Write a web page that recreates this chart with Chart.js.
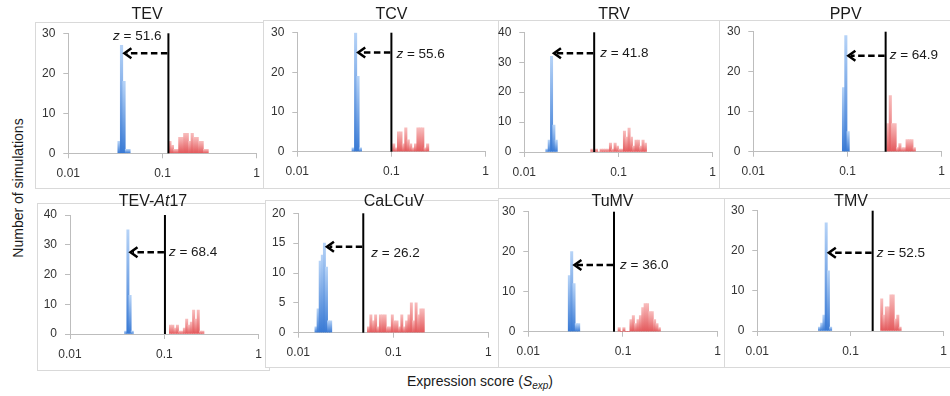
<!DOCTYPE html>
<html>
<head>
<meta charset="utf-8">
<script src="https://cdn.jsdelivr.net/npm/chart.js@4.4.1/dist/chart.umd.min.js"></script>
<style>
  html, body { margin: 0; padding: 0; background: #fff; overflow: hidden; width: 950px; height: 396px; }
  #wrap { position: relative; width: 950px; height: 396px; overflow: hidden;
          font-family: "Liberation Sans", Arial, Helvetica, sans-serif; color: #1a1a1a; }
  #wrap canvas { position: absolute; }
  .ytitle { position: absolute; left: 18px; top: 188px; white-space: nowrap; font-size: 14px;
            transform: translate(-50%, -50%) rotate(-90deg); }
  .xtitle { position: absolute; left: 480px; top: 382px; white-space: nowrap; font-size: 14px;
            transform: translate(-50%, -50%); }
  .xtitle sub { font-size: 10px; font-style: italic; vertical-align: -3px; }
</style>
</head>
<body>
<div id="wrap">
  <div class="ytitle">Number of simulations</div>
  <div class="xtitle">Expression score (<i>S</i><sub>exp</sub>)</div>
</div>
<script>
// ---- panel labels (text between * is italic) ----
const panelTitles = ['TEV', 'TCV', 'TRV', 'PPV', 'TEV-*At*17', 'CaLCuV', 'TuMV', 'TMV'];
const xTicks = [0.01, 0.1, 1];
const xTickLabels = ['0.01', '0.1', '1'];
const yMaxes = [30, 30, 40, 30, 40, 20, 30, 30];
const yStepSizes = [10, 10, 10, 10, 10, 5, 10, 10];

// ---- z-scores, observed score (black line) and arrow level/target ----
const zScores = ['51.6', '55.6', '41.8', '64.9', '68.4', '26.2', '36.0', '52.5'];
const observedScores = [0.1156, 0.1, 0.0552, 0.254, 0.1015, 0.0483, 0.0804, 0.173];
const arrowLevels = [25, 25, 33, 24, 27.5, 14.4, 16.7, 19.5];
const arrowTargets = [0.038, 0.0428, 0.0199, 0.0985, 0.0422, 0.0193, 0.0296, 0.0564];

// ---- histograms: bin centres (x) and counts (n); rand = blue, obs = red ----
const tevRandX = [0.03459, 0.03675, 0.03905, 0.04149, 0.04408];
const tevRandN = [3, 27, 18, 1, 1];
const tevObsX = [0.1199, 0.1274, 0.1354, 0.1438, 0.1528, 0.1624, 0.1725, 0.1833, 0.1948, 0.2069, 0.2199, 0.2336, 0.2482, 0.2637, 0.2802, 0.2977];
const tevObsN = [3, 2, 1, 1, 4, 4, 5, 5, 3, 5, 4, 4, 3, 3, 1, 1];

const tcvRandX = [0.03925, 0.04165, 0.04419, 0.04689];
const tcvRandN = [1, 30, 19, 1];
const tcvObsX = [0.1058, 0.1123, 0.1191, 0.1264, 0.1341, 0.1423, 0.1510, 0.1603, 0.1701, 0.1805, 0.1915, 0.2032, 0.2156, 0.2288, 0.2428];
const tcvObsN = [2, 1, 5, 5, 2, 6, 3, 2, 1, 2, 6, 6, 6, 1, 2];

const trvRandX = [0.01737, 0.01839, 0.01947, 0.02061, 0.02182];
const trvRandN = [1, 4, 32, 9, 4];
const trvObsX = [0.05211, 0.05516, 0.05840, 0.06182, 0.06544, 0.06927, 0.07333, 0.07763, 0.08218, 0.08700, 0.09209, 0.09749, 0.1032, 0.1092, 0.1157, 0.1224, 0.1296, 0.1372, 0.1452, 0.1537, 0.1628, 0.1723, 0.1824, 0.1931];
const trvObsN = [1, 0, 1, 0, 1, 1, 1, 1, 3, 1, 3, 2, 1, 1, 7, 5, 8, 5, 2, 4, 4, 2, 4, 3];

const ppvRandX = [0.09069, 0.09601, 0.1016];
const ppvRandN = [16, 29, 5];
const ppvObsX = [0.2685, 0.2847, 0.3019, 0.3202, 0.3395, 0.3600, 0.3818, 0.4048, 0.4293, 0.4552, 0.4827, 0.5119];
const ppvObsN = [7, 14, 7, 7, 1, 2, 1, 1, 3, 3, 3, 1];

const tevAtRandX = [0.03896, 0.04110, 0.04335, 0.04572];
const tevAtRandN = [1, 35, 13, 1];
const tevAtObsX = [0.1162, 0.1230, 0.1301, 0.1377, 0.1457, 0.1541, 0.1631, 0.1726, 0.1826, 0.1932, 0.2044, 0.2163, 0.2289, 0.2422, 0.2562];
const tevAtObsN = [3, 3, 2, 3, 1, 1, 2, 5, 3, 4, 8, 5, 8, 1, 1];

const calcuvRandX = [0.01536, 0.01616, 0.01700, 0.01789, 0.01883, 0.01981, 0.02084, 0.02193];
const calcuvRandN = [1, 4, 12, 13, 15, 11, 2, 2];
const calcuvObsX = [0.05481, 0.05807, 0.06152, 0.06517, 0.06904, 0.07314, 0.07749, 0.08209, 0.08697, 0.09213, 0.09761, 0.1034, 0.1095, 0.1160, 0.1229, 0.1302, 0.1380, 0.1462, 0.1549, 0.1641, 0.1738, 0.1841, 0.1951, 0.2067];
const calcuvObsN = [1, 3, 2, 3, 1, 3, 3, 3, 1, 1, 3, 2, 2, 1, 3, 1, 2, 3, 5, 2, 5, 3, 4, 4];

const tumvRandX = [0.02715, 0.02873, 0.03040, 0.03216, 0.03403];
const tumvRandN = [14, 20, 12, 2, 2];
const tumvObsX = [0.09120, 0.09659, 0.1023, 0.1083, 0.1147, 0.1215, 0.1287, 0.1363, 0.1443, 0.1529, 0.1619, 0.1715, 0.1816, 0.1923, 0.2037, 0.2157, 0.2285, 0.2420];
const tumvObsN = [1, 0, 1, 0, 0, 3, 4, 2, 3, 4, 6, 7, 7, 5, 5, 3, 2, 1];

const tmvRandX = [0.04653, 0.04916, 0.05193, 0.05486, 0.05795, 0.06122];
const tmvRandN = [1, 2, 4, 27, 15, 1];
const tmvObsX = [0.2165, 0.2291, 0.2425, 0.2567, 0.2717, 0.2875, 0.3043, 0.3221, 0.3409];
const tmvObsN = [8, 4, 6, 6, 9, 9, 3, 4, 1];

const histograms = [
  [tevRandX, tevRandN, tevObsX, tevObsN],
  [tcvRandX, tcvRandN, tcvObsX, tcvObsN],
  [trvRandX, trvRandN, trvObsX, trvObsN],
  [ppvRandX, ppvRandN, ppvObsX, ppvObsN],
  [tevAtRandX, tevAtRandN, tevAtObsX, tevAtObsN],
  [calcuvRandX, calcuvRandN, calcuvObsX, calcuvObsN],
  [tumvRandX, tumvRandN, tumvObsX, tumvObsN],
  [tmvRandX, tmvRandN, tmvObsX, tmvObsN]
];

// ---- page layout of each panel (px): frame, plot area, title centre, label offsets ----
const panelLayout = [
  { box: [35, 22, 268, 188],   plot: [68.3, 258.3, 33.3, 153.3],  title: [147, 15],    barW: 2.5,  zDx: -7, zDy: -17, zAlign: 'right' },
  { box: [263, 20, 503, 188],  plot: [297.3, 485.5, 32.7, 151.7], title: [391.5, 15],  barW: 2.4,  zDx: 5,  zDy: 2,   zAlign: 'left' },
  { box: [498, 20, 724, 188],  plot: [524.3, 713.3, 32.3, 152],   title: [614, 15],    barW: 2.33, zDx: 6,  zDy: 0,   zAlign: 'left' },
  { box: [719, 20, 955, 188],  plot: [753.3, 941.7, 31.7, 151.7], title: [845.7, 15],  barW: 2.4,  zDx: 4,  zDy: 0,   zAlign: 'left' },
  { box: [37, 203, 270, 370],  plot: [70, 260, 215, 334],         title: [153, 201.7], barW: 2.3,  zDx: 4,  zDy: 0,   zAlign: 'left' },
  { box: [265, 200, 503, 367], plot: [298.3, 488.3, 213.3, 332.7],title: [394, 201.7], barW: 2.25, zDx: 8,  zDy: 7,   zAlign: 'left' },
  { box: [498, 198, 729, 367], plot: [528.3, 718.3, 211.7, 331.7],title: [612.5, 201.7], barW: 2.35, zDx: 6, zDy: 0,  zAlign: 'left' },
  { box: [724, 198, 955, 367], plot: [757.3, 947.3, 210.7, 331],  title: [851, 202],   barW: 2.3,  zDx: 4,  zDy: 0,   zAlign: 'left' }
];

const FONT = '"Liberation Sans", Arial, Helvetica, sans-serif';
const AXIS_COLOR = '#bdbdbd';
const TEXT_COLOR = '#1a1a1a';
const X_AXIS_H = 26;
const TITLE_ROOM = 24;

function richParts(label) {
  return label.split('*').map((t, i) => [t, i % 2 === 1]).filter(p => p[0].length);
}

function drawRich(ctx, parts, x, y, size, align) {
  const fontOf = it => (it ? 'italic ' : '') + size + 'px ' + FONT;
  let total = 0;
  parts.forEach(([t, it]) => { ctx.font = fontOf(it); total += ctx.measureText(t).width; });
  let cx = align === 'center' ? x - total / 2 : (align === 'right' ? x - total : x);
  ctx.textBaseline = 'middle';
  ctx.textAlign = 'left';
  parts.forEach(([t, it]) => { ctx.font = fontOf(it); ctx.fillText(t, cx, y); cx += ctx.measureText(t).width; });
}

// vertical gradient per bar: darker at the base, lighter at the top
function barFill(c) {
  const raw = c.raw;
  const pal = raw && raw.kind === 'obs' ? ['#e3575a', '#f8bcbc'] : ['#3879d4', '#b6d3f7'];
  const chart = c.chart;
  const ys = chart.scales && chart.scales.y;
  if (!raw || !ys) return pal[0];
  const top = ys.getPixelForValue(raw.y), base = ys.getPixelForValue(0);
  if (!(base - top > 0.5)) return pal[0];
  const g = chart.ctx.createLinearGradient(0, base, 0, top);
  g.addColorStop(0, pal[0]);
  g.addColorStop(1, pal[1]);
  return g;
}

function makeDecor(i, boxTopInCanvas, titleX, titleY) {
  const L = panelLayout[i];
  return {
    id: 'panelDecor' + i,
    beforeDraw(chart) {
      const ctx = chart.ctx;
      ctx.save();
      ctx.fillStyle = '#fff';
      ctx.fillRect(0, boxTopInCanvas, chart.width, chart.height - boxTopInCanvas);
      ctx.strokeStyle = '#d9d9d9';
      ctx.lineWidth = 1;
      ctx.strokeRect(0.5, boxTopInCanvas + 0.5, chart.width - 1, chart.height - boxTopInCanvas - 1);
      ctx.restore();
    },
    afterDatasetsDraw(chart) {
      const { ctx } = chart;
      const x = chart.scales.x, y = chart.scales.y;
      const lx = x.getPixelForValue(observedScores[i]);
      ctx.save();
      // observed score
      ctx.strokeStyle = '#000';
      ctx.lineWidth = 2;
      ctx.beginPath();
      ctx.moveTo(lx, y.getPixelForValue(yMaxes[i]));
      ctx.lineTo(lx, y.getPixelForValue(0));
      ctx.stroke();
      // dashed arrow towards the simulated distribution
      const ay = y.getPixelForValue(arrowLevels[i]);
      const tx = x.getPixelForValue(arrowTargets[i]);
      ctx.lineWidth = 2.5;
      ctx.setLineDash([6.5, 3.5]);
      ctx.beginPath();
      ctx.moveTo(lx - 1, ay);
      ctx.lineTo(tx + 4, ay);
      ctx.stroke();
      ctx.setLineDash([]);
      ctx.lineJoin = 'miter';
      ctx.beginPath();
      ctx.moveTo(tx + 8.5, ay - 5);
      ctx.lineTo(tx + 1.5, ay);
      ctx.lineTo(tx + 8.5, ay + 5);
      ctx.stroke();
      ctx.fillStyle = TEXT_COLOR;
      drawRich(ctx, [['z', true], [' = ' + zScores[i], false]], lx + L.zDx, ay + L.zDy, 13.5, L.zAlign);
      ctx.restore();
    },
    afterDraw(chart) {
      const ctx = chart.ctx;
      ctx.save();
      ctx.fillStyle = TEXT_COLOR;
      drawRich(ctx, richParts(panelTitles[i]), titleX, titleY, 16, 'center');
      ctx.restore();
    }
  };
}

const wrap = document.getElementById('wrap');

panelTitles.forEach((name, i) => {
  const L = panelLayout[i];
  const [bl, bt, br, bb] = L.box;
  const cLeft = bl, cTop = bt - TITLE_ROOM;
  const W = Math.round(br - bl), H = Math.round(bb - cTop) + 1;
  const canvas = document.createElement('canvas');
  canvas.width = W; canvas.height = H;
  canvas.style.left = cLeft + 'px';
  canvas.style.top = cTop + 'px';
  canvas.style.width = W + 'px';
  canvas.style.height = H + 'px';
  wrap.appendChild(canvas);

  const [pl, pr, pt, pb] = L.plot;
  const areaL = pl - cLeft, areaR = pr - cLeft, areaT = pt - cTop, areaB = pb - cTop;
  const [rx, rn, ox, on] = histograms[i];
  const points = rx.map((v, k) => ({ x: v, y: rn[k], kind: 'rand' }))
    .concat(ox.map((v, k) => ({ x: v, y: on[k], kind: 'obs' })));

  const tickFont = { family: FONT, size: 12 };

  new Chart(canvas, {
    type: 'bar',
    data: {
      datasets: [{
        data: points,
        backgroundColor: barFill,
        borderWidth: 0,
        barThickness: L.barW
      }]
    },
    options: {
      responsive: false,
      animation: false,
      devicePixelRatio: 1,
      events: [],
      layout: { padding: { left: 0, top: areaT, right: W - areaR, bottom: H - areaB - X_AXIS_H } },
      plugins: { legend: { display: false }, tooltip: { enabled: false }, title: { display: false } },
      scales: {
        x: {
          type: 'logarithmic',
          min: xTicks[0],
          max: xTicks[xTicks.length - 1],
          offset: false,
          afterBuildTicks: s => { s.ticks = xTicks.map(v => ({ value: v })); },
          afterFit: s => { s.height = X_AXIS_H; },
          ticks: {
            autoSkip: false, maxRotation: 0, minRotation: 0, padding: 8,
            font: tickFont, color: '#333',
            callback: (v, idx) => xTickLabels[idx]
          },
          grid: { display: true, offset: false, drawOnChartArea: false, drawTicks: true, tickLength: 5, color: AXIS_COLOR },
          border: { display: true, color: AXIS_COLOR, width: 1 }
        },
        y: {
          type: 'linear',
          min: 0,
          max: yMaxes[i],
          afterFit: s => { s.width = areaL; },
          ticks: { stepSize: yStepSizes[i], padding: 8, font: tickFont, color: '#333' },
          grid: { display: true, drawOnChartArea: false, drawTicks: true, tickLength: 5, color: AXIS_COLOR },
          border: { display: true, color: AXIS_COLOR, width: 1 }
        }
      }
    },
    plugins: [makeDecor(i, TITLE_ROOM, L.title[0] - cLeft, L.title[1] - cTop)]
  });
});
</script>
</body>
</html>
